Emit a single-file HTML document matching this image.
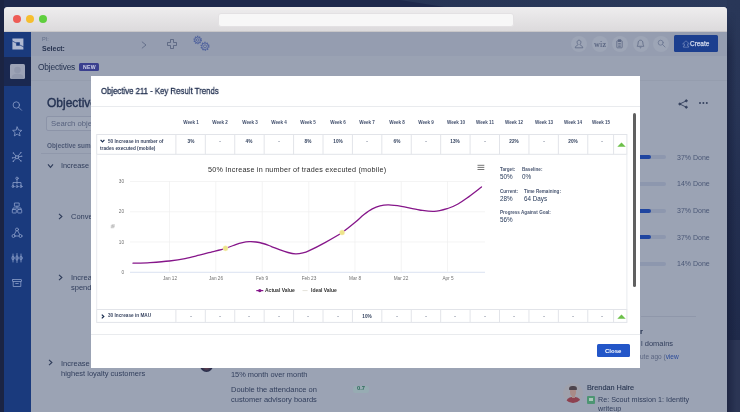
<!DOCTYPE html>
<html>
<head>
<meta charset="utf-8">
<style>
*{box-sizing:border-box;margin:0;padding:0}
html,body{width:740px;height:412px;overflow:hidden}
body{font-family:"Liberation Sans",sans-serif;background:#1e294b;position:relative;color:#1d2b4c}
.a{position:absolute}
.t{position:absolute;white-space:nowrap;line-height:1}
body>*{will-change:transform}
#bgR{left:727px;top:0;width:13px;height:412px;background:linear-gradient(180deg,#293758 0,#283556 25%,#232f50 48%,#1f2a4a 82.4%,#2b3554 82.6%,#2b3554 100%)}
#bgRs{left:727px;top:12px;width:9px;height:400px;background:linear-gradient(90deg,rgba(18,25,52,.5) 0,rgba(18,25,52,0) 100%);-webkit-mask-image:linear-gradient(180deg,transparent 0,#000 40px);mask-image:linear-gradient(180deg,transparent 0,#000 40px)}
#bgL{left:0;top:0;width:4px;height:412px;background:#1b2443}
#bgT{left:0;top:0;width:740px;height:7px;background:#1d284b}
#win{left:4px;top:7px;width:723px;height:405px;border-radius:3.5px 3.5px 0 0;overflow:hidden;background:#9ba3b4}
#title{left:0;top:0;width:723px;height:25px;background:linear-gradient(180deg,#eeedee 0,#dcdadc 100%);border-bottom:1px solid #c9c7c9}
.tl{position:absolute;top:8px;width:8px;height:8px;border-radius:50%}
#url{left:214px;top:5.5px;width:296px;height:14.5px;border-radius:3px;background:#f7f7f7;border:1px solid #e3e1e3}
#side{left:0;top:25px;width:27px;height:380px;background:#1a3a7d}
#tool{left:27px;top:25px;width:696px;height:24px;background:#959db0}
#objbar{left:27px;top:49px;width:696px;height:24.8px;background:#9aa2b3;border-bottom:1px solid #959dae}
#modal{left:91px;top:76px;width:549px;height:291.5px;background:#fff}
.c{position:absolute;font-size:4.7px;text-align:center;color:#34435f;font-weight:bold;line-height:1}
.wk{position:absolute;top:120.9px;font-size:4.55px;font-weight:bold;color:#45526f;text-align:center;width:30px;line-height:1}
.sl{position:absolute;font-size:4.6px;font-weight:bold;color:#4a5772;line-height:1;white-space:nowrap}
.sv{position:absolute;font-size:6.3px;color:#253858;line-height:1;white-space:nowrap}
.ax{position:absolute;font-size:4.7px;color:#707070;line-height:1;white-space:nowrap}
.pb{position:absolute;height:4.4px;border-radius:2.2px;background:#8d97ae}
.pf{position:absolute;left:0;top:0;height:4.4px;border-radius:2.2px;background:#1f45a0}
</style>
</head>
<body>
<div id="bgT" class="a"><svg class="a" style="left:0;top:0" width="740" height="7" viewBox="0 0 740 7"><defs><linearGradient id="tg" x1="0" x2="1" y1="0" y2="0"><stop offset="0" stop-color="#263455"/><stop offset="1" stop-color="#2b3a5c"/></linearGradient></defs><path d="M400 0H740V7H445Z" fill="url(#tg)"/></svg></div>
<div id="bgL" class="a"></div>
<div id="bgR" class="a"></div>
<div id="bgRs" class="a"></div>

<div id="win" class="a">
  <div id="title" class="a">
    <div class="tl" style="left:8.5px;background:#ee5c56"></div>
    <div class="tl" style="left:21.5px;background:#f6be2f"></div>
    <div class="tl" style="left:34.5px;background:#5fcf3e"></div>
    <div id="url" class="a"></div>
  </div>
  <div id="side" class="a"></div>
  <div id="tool" class="a"></div>
  <div id="objbar" class="a"></div>
</div>


<div class="a" style="left:4px;top:56.6px;width:27px;height:29.4px;background:#1a2850"></div>
<div class="a" style="left:10px;top:64px;width:15px;height:15px;background:#9da3b6;border-radius:1.5px;overflow:hidden">
  <svg width="15" height="15" viewBox="0 0 15 15"><circle cx="7.5" cy="6" r="3.3" fill="#9198ad"/><path d="M1.5 15 C1.5 10.5 4 9.8 7.5 9.8 S13.5 10.5 13.5 15Z" fill="#9198ad"/></svg>
</div>
<svg class="a" style="left:11.5px;top:37.5px" width="12" height="12" viewBox="0 0 12 12">
  <path d="M0.4 0.4H11.4V11.4H0.4ZM4.2 4.2V7.8H7.8V4.2Z" fill="#b0b9d1" fill-rule="evenodd"/>
  <path d="M0 2.8L4.4 5.2M7.7 6.9L12 9.1" stroke="#1a3a7d" stroke-width="0.7"/>
</svg>


<svg class="a" style="left:4px;top:90px" width="27" height="200" viewBox="0 0 27 200" fill="none" stroke="#8c9ec9" stroke-width="0.8" stroke-linecap="round" stroke-linejoin="round">
  <circle cx="12.3" cy="15" r="3.2"/><path d="M14.7 17.4L17.6 20.3"/>
  <path d="M13.2 37L14.5 40.1L17.8 40.4L15.3 42.6L16.1 45.9L13.2 44.1L10.3 45.9L11.1 42.6L8.6 40.4L11.9 40.1Z"/>
  <circle cx="13" cy="67.2" r="1.6"/><path d="M9.7 63.3L11.9 66M16.6 63L14.1 66M9.6 71L11.9 68.4M16.7 70.7L14.1 68.4M8.8 67.8L11.4 67.5M17.4 66.3L14.6 66.9"/><g fill="#8c9ec9" stroke="none"><circle cx="9.4" cy="62.9" r="0.7"/><circle cx="16.9" cy="62.6" r="0.7"/><circle cx="9.3" cy="71.3" r="0.7"/><circle cx="17" cy="71" r="0.7"/><circle cx="8.4" cy="67.9" r="0.6"/><circle cx="17.8" cy="66.2" r="0.6"/></g>
  <circle cx="13" cy="88.3" r="1.2"/><path d="M13 89.5V94M9 96V92.5H17V96"/><circle cx="9" cy="96.5" r="1"/><circle cx="13" cy="96.5" r="1"/><circle cx="17" cy="96.5" r="1"/>
  <rect x="10.8" y="113" width="4.4" height="3.2"/><path d="M13 116.2V118M9 119.5V118H17V119.5"/><rect x="8.3" y="119.5" width="4" height="3.5" rx="0.5"/><rect x="13.7" y="119.5" width="4" height="3.5" rx="0.5"/>
  <circle cx="13" cy="139.5" r="1.5"/><circle cx="9.5" cy="146" r="1.5"/><circle cx="16.5" cy="146" r="1.5"/><path d="M12.3 140.8L10.2 144.7M13.7 140.8L15.8 144.7M11 146H15"/>
  <path d="M9 164V172M13 163.5V172.5M17 164V172"/><ellipse cx="9" cy="168" rx="1.1" ry="2"/><ellipse cx="13" cy="168" rx="1.1" ry="2.4"/><ellipse cx="17" cy="168" rx="1.1" ry="2"/>
  <rect x="8.5" y="189.5" width="9" height="2" rx="0.4"/><path d="M9.2 191.5V196.5H16.8V191.5M11.7 193.5H14.3"/>
</svg>

<div class="t" style="left:42px;top:36.66px;font-size:5.6px;color:#626d88;font-weight:normal;">PI:</div>
<div class="t" style="left:42px;top:44.87px;font-size:7px;color:#27334f;font-weight:bold;">Select:</div>

<svg class="a" style="left:139.75px;top:39.6px" width="8" height="10" viewBox="0 0 8 10" fill="none" stroke="#55617f" stroke-width="0.75"><path d="M1.9 1.7L6 5L1.9 8.3"/></svg>
<svg class="a" style="left:166.1px;top:38px" width="12" height="12" viewBox="0 0 12 12" fill="none" stroke="#46526f" stroke-width="0.65" stroke-linejoin="round"><path d="M4.5 1.5H7.5V4.5H10.5V7.5H7.5V10.5H4.5V7.5H1.5V4.5H4.5Z"/></svg>
<svg class="a" style="left:192px;top:34px" width="20" height="19" viewBox="0 0 20 19" fill="none" stroke="#44589a" stroke-width="0.7">
  <circle cx="5.7" cy="6" r="3.6" stroke-dasharray="1.3 0.96" stroke-width="1.3" opacity="0.85"/><circle cx="5.7" cy="6" r="2.9"/><circle cx="5.7" cy="6" r="1.3"/>
  <circle cx="13" cy="12.3" r="3.9" stroke-dasharray="1.4 1.05" stroke-width="1.3" opacity="0.85"/><circle cx="13" cy="12.3" r="3.2"/><circle cx="13" cy="12.3" r="1.5"/>
</svg>

<div class="a" style="left:570.5px;top:35.5px;width:16px;height:16px;border-radius:50%;background:#9da5b6"></div>
<div class="a" style="left:591.5px;top:35.5px;width:16px;height:16px;border-radius:50%;background:#9da5b6"></div>
<div class="a" style="left:611.5px;top:35.5px;width:16px;height:16px;border-radius:50%;background:#9da5b6"></div>
<div class="a" style="left:632.5px;top:35.5px;width:16px;height:16px;border-radius:50%;background:#9da5b6"></div>
<div class="a" style="left:653px;top:35.5px;width:16px;height:16px;border-radius:50%;background:#9da5b6"></div>

<svg class="a" style="left:573.5px;top:38.5px" width="10" height="10" viewBox="0 0 10 10" fill="none" stroke="#5d6884" stroke-width="0.8" stroke-linejoin="round"><path d="M5 1.2C6.3 1.2 6.9 2.2 6.9 3.3C6.9 4.4 6.3 5.2 6 5.6C6 6.6 8.8 6.6 8.8 8.8H1.2C1.2 6.6 4 6.6 4 5.6C3.7 5.2 3.1 4.4 3.1 3.3C3.1 2.2 3.7 1.2 5 1.2Z"/></svg>

<div class="t" style="left:593.8px;top:40.76px;font-size:8.2px;color:#545f7c;font-weight:normal;font-family:'Liberation Serif',serif;letter-spacing:0.2px;-webkit-text-stroke:0.1px #545f7c">wiz</div>

<svg class="a" style="left:615px;top:38.5px" width="9" height="10" viewBox="0 0 9 10" fill="none" stroke="#5d6884" stroke-width="0.8"><rect x="1.8" y="1.8" width="5.4" height="7" rx="0.5"/><rect x="3.3" y="0.8" width="2.4" height="1.8" fill="#5d6884"/><path d="M3.2 4.5H5.8M3.2 6H5.8M3.2 7.4H5.8"/></svg>
<svg class="a" style="left:636px;top:38.5px" width="9" height="10" viewBox="0 0 9 10" fill="none" stroke="#5d6884" stroke-width="0.8" stroke-linejoin="round"><path d="M4.5 1.2C6.3 1.2 6.9 2.6 6.9 4C6.9 6 7.8 6.6 7.8 7.3H1.2C1.2 6.6 2.1 6 2.1 4C2.1 2.6 2.7 1.2 4.5 1.2ZM3.7 8.3C3.9 9 5.1 9 5.3 8.3"/></svg>
<svg class="a" style="left:656.5px;top:39px" width="9" height="9" viewBox="0 0 9 9" fill="none" stroke="#6a7590" stroke-width="0.8" stroke-linecap="round"><circle cx="3.7" cy="3.7" r="2.5"/><path d="M5.6 5.6L8 8"/></svg>
<div class="a" style="left:673.7px;top:34.8px;width:44px;height:17.3px;background:#1c3f8f;border-radius:1.5px"></div>
<svg class="a" style="left:681.5px;top:39.5px" width="8" height="8" viewBox="0 0 8 8" fill="none" stroke="#8799c6" stroke-width="0.6" stroke-linejoin="round"><path d="M4 0.8L7.4 3.9H5.6V6H6.6V7.2H1.4V6H2.4V3.9H0.6Z"/></svg>

<div class="t" style="left:690.2px;top:40.7px;font-size:6.5px;color:#d3daec;font-weight:normal;-webkit-text-stroke:0.25px #d3daec;letter-spacing:-0.05px">Create</div>
<div class="t" style="left:37.5px;top:63.09px;font-size:8.4px;color:#253350;font-weight:normal;letter-spacing:-0.2px">Objectives</div>
<div class="a" style="left:79.3px;top:63.2px;width:19.7px;height:7.8px;background:#3a3f8e;border-radius:1.5px"></div>
<div class="t" style="left:82.5px;top:64.8px;font-size:5.2px;color:#d0d3ea;font-weight:bold;letter-spacing:0.3px">NEW</div>
<div class="t" style="left:46.6px;top:96.84px;font-size:12px;color:#253353;font-weight:normal;-webkit-text-stroke:0.4px #253353">Objectives</div>
<div class="a" style="left:46.3px;top:115.5px;width:150px;height:15px;border:1px solid #8c94a8;border-radius:2px;background:#9fa7b7"></div>
<div class="t" style="left:50.7px;top:119.78px;font-size:7.7px;color:#58637f;font-weight:normal;">Search objectives</div>
<div class="t" style="left:46.8px;top:142.88px;font-size:6.4px;color:#4e5a76;font-weight:bold;">Objective summary</div>
<div class="a" style="left:41px;top:153px;width:50px;height:1px;background:#9098ab"></div>
<svg class="a" style="left:47px;top:162.5px" width="7" height="6" viewBox="0 0 7 6" fill="none" stroke="#2f3c5a" stroke-width="1.1"><path d="M1 1.3L3.5 4.3L6 1.3"/></svg>
<div class="t" style="left:60.7px;top:161.82px;font-size:7.3px;color:#313e5c;font-weight:normal;">Increase conversion</div>
<svg class="a" style="left:57.8px;top:213.1px" width="5" height="7" viewBox="0 0 5 7" fill="none" stroke="#2f3c5a" stroke-width="1.1"><path d="M1 0.8L3.9 3.5L1 6.2"/></svg>
<div class="t" style="left:70.8px;top:212.55px;font-size:7.5px;color:#313e5c;font-weight:normal;">Conversion rate</div>
<svg class="a" style="left:57.8px;top:273.8px" width="5" height="7" viewBox="0 0 5 7" fill="none" stroke="#2f3c5a" stroke-width="1.1"><path d="M1 0.8L3.9 3.5L1 6.2"/></svg>
<div class="t" style="left:70.8px;top:273.55px;font-size:7.5px;color:#313e5c;font-weight:normal;">Increase average</div>
<div class="t" style="left:70.8px;top:283.95px;font-size:7.5px;color:#313e5c;font-weight:normal;">spend per user</div>
<svg class="a" style="left:47.9px;top:359.4px" width="5" height="7" viewBox="0 0 5 7" fill="none" stroke="#2f3c5a" stroke-width="1.1"><path d="M1 0.8L3.9 3.5L1 6.2"/></svg>
<div class="t" style="left:60.5px;top:359.75px;font-size:7.5px;color:#313e5c;font-weight:normal;">Increase retention of</div>
<div class="t" style="left:60.5px;top:369.65px;font-size:7.5px;color:#313e5c;font-weight:normal;">highest loyalty customers</div>
<div class="t" style="left:231.2px;top:370.94px;font-size:7.4px;color:#313e5c;font-weight:normal;">15% month over month</div>
<div class="t" style="left:231.2px;top:385.85px;font-size:7.5px;color:#313e5c;font-weight:normal;">Double the attendance on</div>
<div class="t" style="left:231.2px;top:395.85px;font-size:7.5px;color:#313e5c;font-weight:normal;">customer advisory boards</div>
<div class="a" style="left:353px;top:385.7px;width:15.5px;height:7px;background:#97acb3;border-radius:2px"></div>
<div class="t" style="left:357px;top:386.39px;font-size:5.8px;color:#2c6a5a;font-weight:bold;">0.7</div>
<div class="a" style="left:200px;top:358.5px;width:13px;height:13px;border-radius:50%;background:radial-gradient(circle at 50% 60%,#7a4a55 0,#2a2f4c 45%,#1f2a50 100%)"></div>
<div class="pb" style="left:612px;top:155.4px;width:54.4px"><div class="pf" style="width:38.6px"></div></div>
<div class="t" style="left:677.3px;top:153.67px;font-size:7px;color:#4a5776;font-weight:normal;">37% Done</div>
<div class="pb" style="left:612px;top:182.1px;width:54.4px"><div class="pf" style="width:8px"></div></div>
<div class="t" style="left:677.3px;top:180.37px;font-size:7px;color:#4a5776;font-weight:normal;">14% Done</div>
<div class="pb" style="left:612px;top:208.6px;width:54.4px"><div class="pf" style="width:38.6px"></div></div>
<div class="t" style="left:677.3px;top:206.87px;font-size:7px;color:#4a5776;font-weight:normal;">37% Done</div>
<div class="pb" style="left:612px;top:235.3px;width:54.4px"><div class="pf" style="width:38.6px"></div></div>
<div class="t" style="left:677.3px;top:233.57px;font-size:7px;color:#4a5776;font-weight:normal;">37% Done</div>
<div class="pb" style="left:612px;top:262px;width:54.4px"><div class="pf" style="width:8px"></div></div>
<div class="t" style="left:677.3px;top:260.27px;font-size:7px;color:#4a5776;font-weight:normal;">14% Done</div>

<svg class="a" style="left:677px;top:97.5px" width="12" height="12" viewBox="0 0 12 12" fill="#34415e" stroke="#34415e" stroke-width="0.9"><path d="M9.3 2.8L2.8 6L9.3 9.2" fill="none"/><circle cx="9.3" cy="2.8" r="1"/><circle cx="2.8" cy="6" r="1"/><circle cx="9.3" cy="9.2" r="1"/></svg>
<div class="a" style="left:698.5px;top:102.2px;width:2px;height:2px;border-radius:50%;background:#34415e;box-shadow:3.4px 0 0 #34415e,6.8px 0 0 #34415e"></div>
<div class="a" style="left:641px;top:316px;width:55px;height:1px;background:#8f97aa"></div>

<div class="t" style="left:639.5px;top:328.45px;font-size:7.5px;color:#24314f;font-weight:bold;">r</div>
<div class="t" style="left:640.8px;top:340.35px;font-size:7.5px;color:#313e5c;font-weight:normal;">l domains</div>
<div class="t" style="left:640.3px;top:353.7px;font-size:6.5px;color:#5a6580;font-weight:normal;">ute ago (<span style="color:#2a4a9a">view</span></div>
<div class="t" style="left:587px;top:383.52px;font-size:7.3px;color:#27344f;font-weight:normal;-webkit-text-stroke:0.1px #27344f">Brendan Haire</div>

<div class="a" style="left:562.6px;top:383px;width:20px;height:20px;border-radius:50%;background:#a0a2ad;overflow:hidden">
  <div class="a" style="left:2.5px;top:14.2px;width:15px;height:9px;border-radius:6px 6px 0 0;background:#8d4150"></div>
  <div class="a" style="left:6.7px;top:4px;width:6.6px;height:8.5px;border-radius:50%;background:#a98b88"></div>
  <div class="a" style="left:6.3px;top:2.8px;width:7.4px;height:4px;border-radius:4px 4px 1px 1px;background:#4d444d"></div>
  <div class="a" style="left:8.5px;top:11.5px;width:3px;height:3.5px;background:#a98b88"></div>
</div>
<div class="a" style="left:587px;top:395.6px;width:7.6px;height:7.6px;background:#4d9573;border-radius:1px"></div>
<div class="a" style="left:588.8px;top:398px;width:4px;height:3.2px;background:#a9c9ba"></div>

<div class="t" style="left:597.7px;top:395.81px;font-size:7.2px;color:#313e5c;font-weight:normal;">Re: Scout mission 1: Identity</div>
<div class="t" style="left:597.7px;top:405.11px;font-size:7.2px;color:#313e5c;font-weight:normal;">writeup</div>
<div id="modal" class="a"></div>
<div class="t" style="left:101px;top:86.68px;font-size:9px;color:#1f2d4d;font-weight:normal;-webkit-text-stroke:0.32px #243252;transform-origin:0 50%;transform:scaleX(0.865)">Objective 211 - Key Result Trends</div>
<div class="a" style="left:91px;top:105.5px;width:549px;height:1px;background:#e9ebee"></div>
<div class="a" style="left:91px;top:333.6px;width:549px;height:1px;background:#e9ebee"></div>
<div class="a" style="left:633px;top:113.3px;width:3px;height:174px;border-radius:1.5px;background:#606060"></div>
<div class="a" style="left:597px;top:344.3px;width:33px;height:13.3px;background:#2356c8;border-radius:1.5px"></div>
<div class="t" style="left:605.3px;top:347.92px;font-size:6px;color:#fff;font-weight:bold;">Close</div>
<div class="wk" style="left:175.81px">Week 1</div>
<div class="wk" style="left:205.23px">Week 2</div>
<div class="wk" style="left:234.65px">Week 3</div>
<div class="wk" style="left:264.07px">Week 4</div>
<div class="wk" style="left:293.49px">Week 5</div>
<div class="wk" style="left:322.91px">Week 6</div>
<div class="wk" style="left:352.33px">Week 7</div>
<div class="wk" style="left:381.75px">Week 8</div>
<div class="wk" style="left:411.17px">Week 9</div>
<div class="wk" style="left:440.59px">Week 10</div>
<div class="wk" style="left:470.01px">Week 11</div>
<div class="wk" style="left:499.43px">Week 12</div>
<div class="wk" style="left:528.85px">Week 13</div>
<div class="wk" style="left:558.27px">Week 14</div>
<div class="wk" style="left:586.49px">Week 15</div>
<svg class="a" style="left:91px;top:76px" width="549" height="291" viewBox="91 76 549 291" fill="none" stroke="#e2e4e9" stroke-width="1"><rect x="96.7" y="134.5" width="530.2" height="19.8"/><rect x="96.7" y="309.5" width="530.2" height="12.9"/><path d="M96.7 154.3V309.5M626.9 154.3V309.5" stroke="#e9ebef"/><path d="M175.9 134.5V154.3M175.9 309.5V322.4M205.32 134.5V154.3M205.32 309.5V322.4M234.74 134.5V154.3M234.74 309.5V322.4M264.16 134.5V154.3M264.16 309.5V322.4M293.58 134.5V154.3M293.58 309.5V322.4M323 134.5V154.3M323 309.5V322.4M352.42 134.5V154.3M352.42 309.5V322.4M381.84 134.5V154.3M381.84 309.5V322.4M411.26 134.5V154.3M411.26 309.5V322.4M440.68 134.5V154.3M440.68 309.5V322.4M470.1 134.5V154.3M470.1 309.5V322.4M499.52 134.5V154.3M499.52 309.5V322.4M528.94 134.5V154.3M528.94 309.5V322.4M558.36 134.5V154.3M558.36 309.5V322.4M587.78 134.5V154.3M587.78 309.5V322.4M613.6 134.5V154.3M613.6 309.5V322.4"/></svg>
<svg class="a" style="left:99.8px;top:139.4px" width="5" height="4" viewBox="0 0 5 4" fill="none" stroke="#172b4d" stroke-width="1.2"><path d="M0.6 0.8L2.5 2.8L4.4 0.8"/></svg>
<div class="t" style="left:108.3px;top:139.9px;font-size:4.72px;color:#3a4662;font-weight:bold;">50 Increase in number of</div>
<div class="t" style="left:100px;top:146.7px;font-size:4.72px;color:#3a4662;font-weight:bold;">trades executed (mobile)</div>
<div class="c" style="left:176.61px;top:134px;width:28px;height:20.5px;padding-top:6.1px">3%</div>
<div class="c" style="left:206.03px;top:134px;width:28px;height:20.5px;padding-top:6.1px">-</div>
<div class="c" style="left:235.45px;top:134px;width:28px;height:20.5px;padding-top:6.1px">4%</div>
<div class="c" style="left:264.87px;top:134px;width:28px;height:20.5px;padding-top:6.1px">-</div>
<div class="c" style="left:294.29px;top:134px;width:28px;height:20.5px;padding-top:6.1px">8%</div>
<div class="c" style="left:323.71px;top:134px;width:28px;height:20.5px;padding-top:6.1px">10%</div>
<div class="c" style="left:353.13px;top:134px;width:28px;height:20.5px;padding-top:6.1px">-</div>
<div class="c" style="left:382.55px;top:134px;width:28px;height:20.5px;padding-top:6.1px">6%</div>
<div class="c" style="left:411.97px;top:134px;width:28px;height:20.5px;padding-top:6.1px">-</div>
<div class="c" style="left:441.39px;top:134px;width:28px;height:20.5px;padding-top:6.1px">13%</div>
<div class="c" style="left:470.81px;top:134px;width:28px;height:20.5px;padding-top:6.1px">-</div>
<div class="c" style="left:500.23px;top:134px;width:28px;height:20.5px;padding-top:6.1px">22%</div>
<div class="c" style="left:529.65px;top:134px;width:28px;height:20.5px;padding-top:6.1px">-</div>
<div class="c" style="left:559.07px;top:134px;width:28px;height:20.5px;padding-top:6.1px">20%</div>
<div class="c" style="left:588.19px;top:134px;width:28px;height:20.5px;padding-top:6.1px">-</div>
<svg class="a" style="left:616.9px;top:142.2px" width="9" height="5" viewBox="0 0 9 5"><path d="M0.3 4.7L4.5 0.4L8.7 4.7Z" fill="#6cc04a"/></svg>
<svg class="a" style="left:101px;top:313.6px" width="4" height="5" viewBox="0 0 4 5" fill="none" stroke="#172b4d" stroke-width="1.2"><path d="M0.8 0.6L2.8 2.5L0.8 4.4"/></svg>
<div class="t" style="left:108.4px;top:313.7px;font-size:4.72px;color:#3a4662;font-weight:bold;">30 Increase in MAU</div>
<div class="c" style="left:176.61px;top:309.2px;width:28px;height:13.5px;padding-top:5.6px">-</div>
<div class="c" style="left:206.03px;top:309.2px;width:28px;height:13.5px;padding-top:5.6px">-</div>
<div class="c" style="left:235.45px;top:309.2px;width:28px;height:13.5px;padding-top:5.6px">-</div>
<div class="c" style="left:264.87px;top:309.2px;width:28px;height:13.5px;padding-top:5.6px">-</div>
<div class="c" style="left:294.29px;top:309.2px;width:28px;height:13.5px;padding-top:5.6px">-</div>
<div class="c" style="left:323.71px;top:309.2px;width:28px;height:13.5px;padding-top:5.6px">-</div>
<div class="c" style="left:353.13px;top:309.2px;width:28px;height:13.5px;padding-top:5.6px">10%</div>
<div class="c" style="left:382.55px;top:309.2px;width:28px;height:13.5px;padding-top:5.6px">-</div>
<div class="c" style="left:411.97px;top:309.2px;width:28px;height:13.5px;padding-top:5.6px">-</div>
<div class="c" style="left:441.39px;top:309.2px;width:28px;height:13.5px;padding-top:5.6px">-</div>
<div class="c" style="left:470.81px;top:309.2px;width:28px;height:13.5px;padding-top:5.6px">-</div>
<div class="c" style="left:500.23px;top:309.2px;width:28px;height:13.5px;padding-top:5.6px">-</div>
<div class="c" style="left:529.65px;top:309.2px;width:28px;height:13.5px;padding-top:5.6px">-</div>
<div class="c" style="left:559.07px;top:309.2px;width:28px;height:13.5px;padding-top:5.6px">-</div>
<div class="c" style="left:588.19px;top:309.2px;width:28px;height:13.5px;padding-top:5.6px">-</div>
<svg class="a" style="left:616.9px;top:313.8px" width="9" height="5" viewBox="0 0 9 5"><path d="M0.3 4.7L4.5 0.4L8.7 4.7Z" fill="#6cc04a"/></svg>
<div class="t" style="left:207.5px;top:166.11px;font-size:7.2px;color:#2c2c2c;font-weight:normal;letter-spacing:0.225px">50% Increase in number of trades executed (mobile)</div>
<svg class="a" style="left:476.5px;top:164px" width="8" height="7" viewBox="0 0 8 7" fill="none" stroke="#666" stroke-width="0.9"><path d="M0.5 1.3H7.3M0.5 3.4H7.3M0.5 5.5H7.3"/></svg>
<svg class="a" style="left:91px;top:76px" width="549" height="291" viewBox="91 76 549 291" fill="none">
<path d="M130 181.5H485" stroke="#efefef" stroke-width="0.7"/>
<path d="M130 211.8H485" stroke="#efefef" stroke-width="0.7"/>
<path d="M130 242H485" stroke="#efefef" stroke-width="0.7"/>
<path d="M130 272.3H485" stroke="#ccd6eb" stroke-width="0.7"/>
<path d="M169.5 181.5V272.3" stroke="#efefef" stroke-width="0.7"/>
<path d="M215.8 181.5V272.3" stroke="#efefef" stroke-width="0.7"/>
<path d="M262.3 181.5V272.3" stroke="#efefef" stroke-width="0.7"/>
<path d="M308.8 181.5V272.3" stroke="#efefef" stroke-width="0.7"/>
<path d="M355 181.5V272.3" stroke="#efefef" stroke-width="0.7"/>
<path d="M401.3 181.5V272.3" stroke="#efefef" stroke-width="0.7"/>
<path d="M447.5 181.5V272.3" stroke="#efefef" stroke-width="0.7"/>
<path d="M133 263.2C135.8 263.1 143.9 263 150 262.6C156.1 262.2 163.6 261.7 169.4 261C175.2 260.3 180 259.6 185 258.6C190 257.6 194.8 256.3 199.3 255.2C203.8 254.1 207.6 253 212 251.8C216.4 250.7 221.6 249.5 225.5 248.3C229.4 247.1 232.9 245.6 235.7 244.6C238.5 243.6 240.2 243.1 242.5 242.6C244.8 242.1 246.9 241.8 249.2 241.7C251.4 241.6 253.7 241.7 256 242C258.3 242.3 260.5 242.8 263 243.5C265.5 244.2 268.3 245.3 271 246.3C273.7 247.3 276.6 248.7 279.4 249.7C282.2 250.7 285.3 251.8 288 252.5C290.7 253.2 293 253.7 295.5 253.8C298 253.9 300.8 253.4 303 252.9C305.2 252.4 305 252.6 308.7 250.9C312.4 249.2 319.4 245.7 325 242.6C330.6 239.5 337.1 235.9 342.1 232.5C347.1 229.1 351.6 225.3 355.2 222.3C358.8 219.3 361.1 216.7 364 214.5C366.9 212.3 369.6 210.3 372.3 208.9C375 207.5 377.3 206.6 380 205.9C382.7 205.2 385.1 204.8 388.7 204.9C392.3 205 396.2 205.5 401.4 206.3C406.5 207.2 414.1 209.2 419.6 210C425.1 210.8 429.5 211.7 434.2 211.4C438.9 211.2 443.7 209.7 447.7 208.5C451.7 207.3 454.8 205.8 458 204C461.2 202.2 463.1 200.8 467 198C470.9 195.2 479.1 188.8 481.5 187" stroke="#86168a" stroke-width="1.3" stroke-linecap="round"/>
<circle cx="225.5" cy="248.3" r="2.6" fill="#eee48a" stroke="#f7f2c8" stroke-width="0.5"/><circle cx="342.1" cy="232.5" r="2.6" fill="#eee48a" stroke="#f7f2c8" stroke-width="0.5"/>
<path d="M256.3 290.6H263.3" stroke="#86168a" stroke-width="1.2"/><circle cx="259.8" cy="290.6" r="1.7" fill="#86168a"/>
<path d="M302.5 290.6H307.6" stroke="#e4e2da" stroke-width="1"/>
</svg>
<div class="ax" style="left:109px;width:15px;text-align:right;top:180.1px">30</div>
<div class="ax" style="left:109px;width:15px;text-align:right;top:210.4px">20</div>
<div class="ax" style="left:109px;width:15px;text-align:right;top:240.6px">10</div>
<div class="ax" style="left:109px;width:15px;text-align:right;top:270.9px">0</div>
<div class="ax" style="left:111.8px;top:224.2px;transform:rotate(-90deg);font-size:4.5px">%</div>
<div class="ax" style="left:154.5px;width:30px;text-align:center;top:276.6px">Jan 12</div>
<div class="ax" style="left:200.8px;width:30px;text-align:center;top:276.6px">Jan 26</div>
<div class="ax" style="left:247.3px;width:30px;text-align:center;top:276.6px">Feb 9</div>
<div class="ax" style="left:293.8px;width:30px;text-align:center;top:276.6px">Feb 23</div>
<div class="ax" style="left:340px;width:30px;text-align:center;top:276.6px">Mar 8</div>
<div class="ax" style="left:386.3px;width:30px;text-align:center;top:276.6px">Mar 22</div>
<div class="ax" style="left:432.5px;width:30px;text-align:center;top:276.6px">Apr 5</div>
<div class="t" style="left:264.5px;top:287.97px;font-size:5px;color:#333;font-weight:bold;">Actual Value</div>
<div class="t" style="left:310.5px;top:287.97px;font-size:5px;color:#333;font-weight:bold;">Ideal Value</div>
<div class="sl" style="left:500px;top:167.9px">Target:</div><div class="sl" style="left:521.5px;top:167.9px">Baseline:</div>
<div class="sv" style="left:500px;top:173.6px">50%</div><div class="sv" style="left:521.5px;top:173.6px">0%</div>
<div class="sl" style="left:500px;top:189.6px">Current:</div><div class="sl" style="left:524px;top:189.6px">Time Remaining:</div>
<div class="sv" style="left:500px;top:195.5px">28%</div><div class="sv" style="left:524px;top:195.5px">64 Days</div>
<div class="sl" style="left:500px;top:211.1px">Progress Against Goal:</div>
<div class="sv" style="left:500px;top:217.2px">56%</div>
</body></html>
